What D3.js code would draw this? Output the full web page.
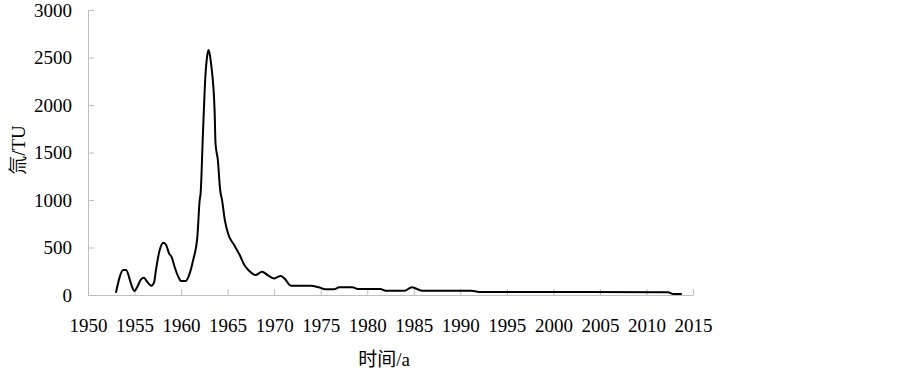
<!DOCTYPE html>
<html><head><meta charset="utf-8">
<script src="https://cdn.jsdelivr.net/npm/d3@7"></script>
<style>body{margin:0;background:#fff} svg text{font-family:"Liberation Serif","Times New Roman",Times,"Noto Sans CJK SC",serif !important;}</style>
</head><body><svg id="c" width="903" height="369"></svg>
<script>
const years = [1953,1953.8,1954.1,1954.5,1954.75,1955,1955.3,1955.7,1956,1956.3,1956.8,1957.1,1957.3,1957.7,1958.1,1958.4,1958.7,1959,1959.3,1959.7,1960,1960.5,1960.8,1961.3,1961.75,1962,1962.1,1962.35,1962.63,1962.77,1962.95,1963.06,1963.24,1963.6,1963.7,1963.95,1964.2,1964.4,1964.7,1965.1,1965.7,1966.3,1966.8,1967.3,1968,1968.7,1969.3,1970,1970.7,1971.1,1971.8,1973.9,1974.8,1975.5,1976.4,1977,1978.4,1979,1981.4,1982,1984,1984.8,1985.9,1991.2,1992,2012.3,2012.9,2013.8];
const tritium = [24,263,263,158,81,42,88,165,182,147,98,133,263,474,551,526,439,397,298,193,147,147,193,368,614,1000,1070,1700,2333,2490,2578,2543,2420,1947,1596,1421,1105,1000,789,632,526,421,316,256,210,245,210,175,200,175,98,98,81,60,60,81,81,63,63,45,45,81,45,45,32,30,10,10];
const xTicks = [1950,1955,1960,1965,1970,1975,1980,1985,1990,1995,2000,2005,2010,2015];
const yTicks = [0,500,1000,1500,2000,2500,3000];

const svg = d3.select('#c');
const x = d3.scaleLinear().domain([1950,2015]).range([88,693]);
const y = d3.scaleLinear().domain([0,3000]).range([295,10]);
const axisColor = '#bfbfbf';

const gx = svg.append('g').attr('transform','translate(0,295)')
  .call(d3.axisBottom(x).tickValues(xTicks).tickFormat(d3.format('d')).tickSizeInner(-6).tickSizeOuter(0).tickPadding(24));
gx.select('.domain').attr('stroke',axisColor);
gx.selectAll('.tick line').attr('stroke',axisColor);
gx.selectAll('text').attr('font-size',19).attr('fill','#000');

const gy = svg.append('g').attr('transform','translate(88,0)')
  .call(d3.axisLeft(y).tickValues(yTicks).tickFormat(d3.format('d')).tickSizeInner(-6).tickSizeOuter(0).tickPadding(16));
gy.select('.domain').attr('stroke',axisColor);
gy.selectAll('.tick line').attr('stroke',axisColor);
gy.selectAll('text').attr('font-size',19).attr('fill','#000');

const line = d3.line().x((d,i)=>x(years[i])).y(d=>y(d)).curve(d3.curveMonotoneX);
svg.append('path').attr('d',line(tritium)).attr('fill','none').attr('stroke','#000').attr('stroke-width',2);

svg.append('text').attr('x',384).attr('y',366).attr('text-anchor','middle')
  .attr('font-size',19).text('时间/a');
svg.append('text').attr('transform','translate(25,150) rotate(-90)').attr('text-anchor','middle')
  .attr('font-size',19).text('氚/TU');
</script></body></html>
